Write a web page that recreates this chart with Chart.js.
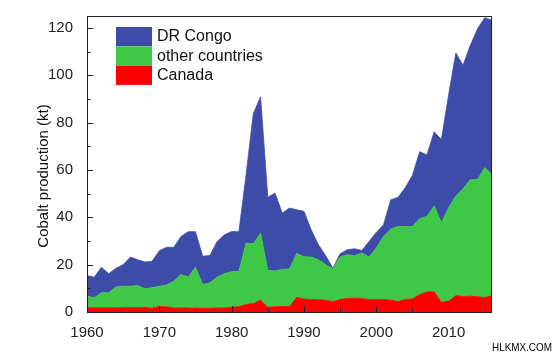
<!DOCTYPE html>
<html><head><meta charset="utf-8">
<script src="https://cdn.jsdelivr.net/npm/chart.js@4.4.0/dist/chart.umd.min.js"></script>
<style>
html,body{margin:0;padding:0;background:#fff;}
#wrap{position:relative;width:559px;height:356px;}
#wm{position:absolute;left:492px;top:341px;font:11px "Liberation Sans",Arial,sans-serif;color:#000;transform:scaleX(0.9);transform-origin:0 0;white-space:nowrap;}
</style></head><body>
<div id="wrap"><canvas id="c" width="559" height="356"></canvas><div id="wm">HLKMX.COM</div></div>
<script>
const years = [1960,1961,1962,1963,1964,1965,1966,1967,1968,1969,
  1970,1971,1972,1973,1974,1975,1976,1977,1978,1979,
  1980,1981,1982,1983,1984,1985,1986,1987,1988,1989,
  1990,1991,1992,1993,1994,1995,1996,1997,1998,1999,
  2000,2001,2002,2003,2004,2005,2006,2007,2008,2009,
  2010,2011,2012,2013,2014,2015,2016];
const canada = [1.8,1.8,1.8,1.8,1.8,1.9,1.9,1.9,2.0,1.6,
  2.3,2.2,1.7,1.7,1.7,1.6,1.6,1.6,1.7,1.7,
  2.0,2.2,3.2,3.6,5.0,2.0,2.2,2.3,2.3,6.2,
  5.5,5.3,5.2,5.0,4.3,5.3,5.7,5.8,5.7,5.3,
  5.3,5.3,5.0,4.4,5.3,5.5,7.4,8.5,8.5,4.1,
  4.6,6.9,6.5,6.7,6.4,6.1,6.9];
const otherCountries = [4.9,4.2,6.3,6.3,8.8,9.0,9.0,9.3,7.8,8.6,
  8.6,9.2,11.3,14.1,13.1,17.3,10.0,10.7,13.1,14.5,
  15.0,15.0,25.9,25.2,28.3,15.6,15.1,15.7,15.9,18.5,
  17.8,17.9,16.9,15.0,14.0,17.9,18.5,18.0,19.2,17.9,
  21.7,26.6,30.0,31.7,30.8,30.6,32.0,31.9,36.3,33.5,
  39.4,42.1,45.5,49.1,49.6,54.9,51.1];
const drCongo = [8.7,8.7,10.8,8.1,7.9,9.1,12.3,10.9,11.3,11.2,
  15.0,15.9,14.3,16.1,19.1,15.0,11.9,11.6,15.0,16.4,
  17.0,16.7,28.9,55.0,57.6,30.9,32.9,23.8,25.7,18.5,
  19.2,11.5,6.3,3.8,0.2,1.4,2.1,2.9,1.1,6.6,
  6.6,4.9,12.4,12.3,16.4,21.6,28.3,25.9,31.3,35.2,
  47.6,60.4,52.2,56.8,63.6,63.3,65.2];
const seriesNames = ['Canada','other countries','DR Congo'];
const seriesColors = ['#FF0000','#3FC845','#3E4CA9'];
const yTicks = [0,20,40,60,80,100,120];
const yMinor = [10,30,50,70,90,110];
const xTicks = [1960,1970,1980,1990,2000,2010];
const xMinor = [1965,1975,1985,1995,2005,2015];
const yTitle = 'Cobalt production (kt)';

Chart.defaults.font.family = '"Liberation Sans", Arial, sans-serif';
Chart.defaults.font.size = 15;
Chart.defaults.color = '#222';

const toPts = arr => years.map((yr, i) => ({x: yr, y: arr[i]}));
const seriesData = [canada, otherCountries, drCongo];

const deco = {
  id: 'deco',
  afterDatasetsDraw(chart) {
    const {ctx, chartArea: a, scales: {x, y}} = chart;
    ctx.save();
    ctx.strokeStyle = '#222';
    ctx.lineWidth = 1;
    ctx.beginPath();
    yTicks.forEach(v => { const p = Math.round(y.getPixelForValue(v)) + 0.5; ctx.moveTo(a.left, p); ctx.lineTo(a.left + 6, p); });
    yMinor.forEach(v => { const p = Math.round(y.getPixelForValue(v)) + 0.5; ctx.moveTo(a.left, p); ctx.lineTo(a.left + 3.5, p); });
    xTicks.forEach(v => { const p = Math.round(x.getPixelForValue(v)) + 0.5; ctx.moveTo(p, a.bottom); ctx.lineTo(p, a.bottom - 6); });
    xMinor.forEach(v => { const p = Math.round(x.getPixelForValue(v)) + 0.5; ctx.moveTo(p, a.bottom); ctx.lineTo(p, a.bottom - 4); });
    ctx.stroke();
    ctx.strokeRect(Math.round(a.left) + 0.5, Math.round(a.top) + 0.5, Math.round(a.right - a.left) - 1, Math.round(a.bottom - a.top));
    // legend (top to bottom: reverse stacking order)
    const order = [2, 1, 0];
    ctx.font = '16px "Liberation Sans", Arial, sans-serif';
    ctx.textBaseline = 'middle';
    ctx.textAlign = 'left';
    order.forEach((k, r) => {
      const top = 27 + r * 19.3;
      ctx.fillStyle = seriesColors[k];
      ctx.fillRect(116, top, 36, 19.3);
      ctx.fillStyle = '#111';
      ctx.fillText(seriesNames[k], 157, top + 10);
    });
    // y title
    ctx.translate(44, 176);
    ctx.rotate(-Math.PI / 2);
    ctx.textAlign = 'center';
    ctx.font = '15px "Liberation Sans", Arial, sans-serif';
    ctx.fillStyle = '#111';
    ctx.fillText(yTitle, 0, 0);
    ctx.restore();
  }
};

new Chart(document.getElementById('c'), {
  type: 'line',
  data: {
    datasets: seriesData.map((arr, i) => ({
      label: seriesNames[i],
      data: toPts(arr),
      backgroundColor: seriesColors[i],
      borderColor: seriesColors[i],
      borderWidth: 0.8,
      pointRadius: 0,
      tension: 0,
      fill: i === 0 ? 'origin' : '-1'
    }))
  },
  options: {
    responsive: false,
    animation: false,
    devicePixelRatio: 1,
    layout: {padding: {top: 16, right: 67, left: 0, bottom: 0}},
    plugins: {legend: {display: false}, tooltip: {enabled: false}},
    scales: {
      x: {
        type: 'linear', min: 1960, max: 2016,
        grid: {display: false}, border: {display: false},
        afterBuildTicks: s => { s.ticks = xTicks.map(v => ({value: v})); },
        afterFit: s => { s.height = 44; },
        ticks: {padding: 4, maxRotation: 0, callback: v => String(v)}
      },
      y: {
        stacked: true, min: 0, max: 125,
        grid: {display: false}, border: {display: false},
        afterBuildTicks: s => { s.ticks = yTicks.map(v => ({value: v})); },
        afterFit: s => { s.width = 87; },
        ticks: {padding: 6, callback: v => String(v)}
      }
    }
  },
  plugins: [deco]
});
</script>
</body></html>
